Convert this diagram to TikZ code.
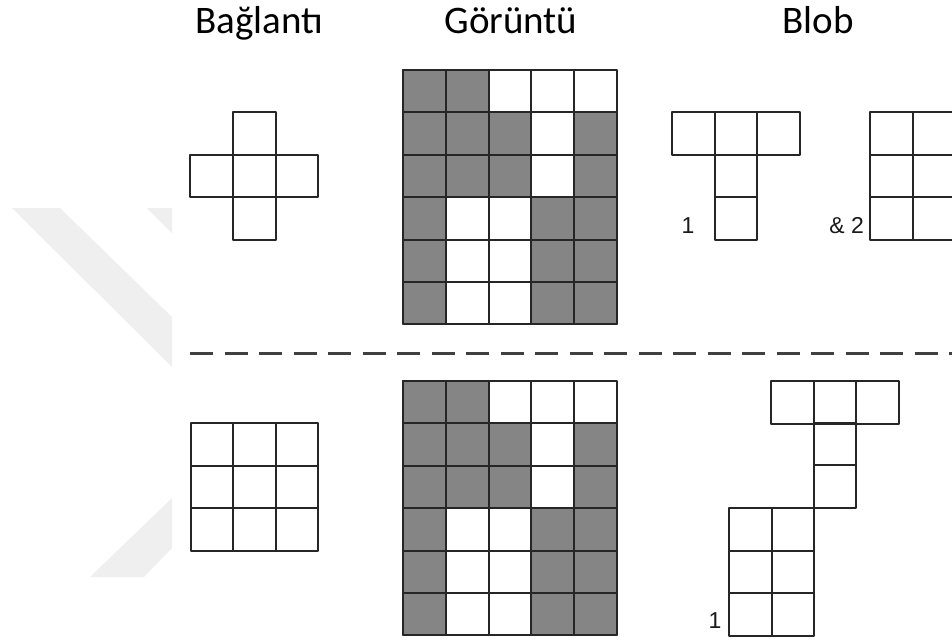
\documentclass[tikz,border=0pt]{standalone}
\usepackage{fontspec}
\setmainfont{Carlito}
\newfontfamily\numfont{Liberation Sans}
\usepackage{tikz}
\usetikzlibrary{positioning,calc}
\definecolor{pixgray}{HTML}{858585}
\definecolor{pixline}{HTML}{262626}
\definecolor{wmark}{HTML}{EFEFEF}
\definecolor{divline}{HTML}{404040}

\begin{document}
\begin{tikzpicture}[
  x=1pt,y=-1pt,
  ttl/.style={font=\fontsize{39}{45}\selectfont, color=black, anchor=base},
  lbl/.style={font=\numfont\fontsize{23}{27}\selectfont, color=black!90, anchor=base, inner sep=0pt},
  pix/.style={draw=pixline, line width=2pt, line join=round},
  gpix/.style={pix, fill=pixgray},
  divider/.style={draw=divline, line width=3pt, dash pattern=on 23pt off 11.5pt},
]
\useasboundingbox (0,0) rectangle (952,643);
\clip (0,0) rectangle (952,643);
% watermark on the left
\fill[wmark] (12,208) -- (60,208) -- (172,317) -- (172,367) -- cycle;
\fill[wmark] (147,208) -- (172,208) -- (172,233) -- cycle;
\fill[wmark] (172,498) -- (90,577) -- (144,577) -- (172,548) -- cycle;
% titles
\node[ttl] (tconn) at (259,33) {Bağlantı};
\node[ttl] (timg) at (511,33) {Görüntü};
\node[ttl] (tblob) at (818,33) {Blob};
% connectivity: 4-neighbour cross and 8-neighbour square
\foreach \px/\py in {233/112,190/154.5,233/154.5,275.5/154.5,233/197}
  \draw[pix] (\px,\py) rectangle ++(42.5,42.5);
\foreach \i in {0,1,2}
  \foreach \j in {0,1,2}
    \draw[pix] ({191+42.4*\i},{423+42.6*\j}) rectangle ++(42.4,42.6);
% image, drawn twice (top and bottom)
\foreach \gy in {70,381}{
  \foreach \i in {0,...,4}
    \foreach \j in {0,...,5}
      \draw[pix] ({403+42.8*\i},{\gy+42.4*\j}) rectangle ++(42.8,42.4);
  \foreach \i/\j in {0/0,1/0, 0/1,1/1,2/1,4/1, 0/2,1/2,2/2,4/2, 0/3,3/3,4/3, 0/4,3/4,4/4, 0/5,3/5,4/5}
    \draw[gpix] ({403+42.8*\i},{\gy+42.4*\j}) rectangle ++(42.8,42.4);
}
% blobs with 4-connectivity
\foreach \px/\py in {672/112,714.5/112,757/112,714.5/154.5,714.5/197}
  \draw[pix] (\px,\py) rectangle ++(42.5,42.5);
\foreach \px/\py in {870/112,912.5/112,870/154.5,912.5/154.5,870/197,912.5/197}
  \draw[pix] (\px,\py) rectangle ++(42.5,42.5);
\node[lbl] (b1) at (688,233) {1};
\node[lbl,anchor=base east] (b2) at (864,233) {\& 2};
% divider
\coordinate (dl) at (190,353);
\coordinate (dr) at (960,353);
\draw[divider] (dl) -- (dr);
% blob with 8-connectivity
\foreach \px/\py in {771/381,813.5/381,856/381,813.5/422.5,813.5/465,729/508,771.5/508,729/550.5,771.5/550.5,729/593,771.5/593}
  \draw[pix] (\px,\py) rectangle ++(42.5,42.5);
\node[lbl] (b3) at (715,628) {1};
\end{tikzpicture}
\end{document}
